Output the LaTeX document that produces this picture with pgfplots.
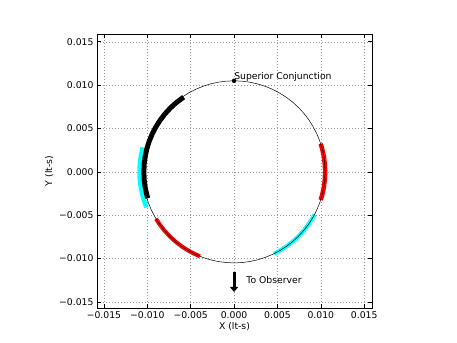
\documentclass[border=0pt]{standalone}
\usepackage{fontspec}
\setmainfont{DejaVu Sans}
\usepackage{pgfplots}
\pgfplotsset{compat=1.18}
\usetikzlibrary{arrows.meta}
\definecolor{mcyan}{RGB}{0,255,255}
\definecolor{mred}{RGB}{255,0,0}
\begin{document}
\begin{tikzpicture}
\begin{axis}[
    scale only axis,
    width=275bp, height=274bp,
    xmin=-0.0158, xmax=0.0159,
    ymin=-0.0157, ymax=0.0159,
    scaled ticks=false,
    xtick={-0.015,-0.01,-0.005,0,0.005,0.01,0.015},
    xticklabels={−0.015,−0.010,−0.005,0.000,0.005,0.010,0.015},
    ytick={-0.015,-0.01,-0.005,0,0.005,0.01,0.015},
    yticklabels={−0.015,−0.010,−0.005,0.000,0.005,0.010,0.015},
    grid=major,
    major grid style={black!40, line width=0.5bp, dash pattern=on 0.9bp off 2.1bp},
    tick style={black, line width=0.6bp},
    major tick length=4bp,
    axis line style={line width=0.8bp},
    xlabel={X (lt-s)}, ylabel={Y (lt-s)},
    tick label style={font=\fontsize{9.3}{11}\selectfont},
    label style={font=\fontsize{9.3}{11}\selectfont},
    xlabel style={yshift=3bp},
    ylabel style={yshift=-1bp},
    clip=false,
]
% observed arcs (angle in degrees, radius in lt-s)
\addplot[mcyan, line width=4.5bp, data cs=polar] coordinates {
 (165,0.0109) (170,0.0109) (175,0.0109) (180,0.0109) (185,0.0109)
 (190,0.0109) (195,0.0109) (200,0.0109) (202,0.0109)};
\addplot[mred, line width=4.5bp, data cs=polar] coordinates {
 (-18,0.0105) (-15,0.0105) (-10,0.0105) (-5,0.0105) (0,0.0105)
 (5,0.0105) (10,0.0105) (15,0.0105) (18,0.0105)};
\addplot[mcyan, line width=4bp, data cs=polar] coordinates {
 (-64,0.0105) (-60,0.0105) (-55,0.0105) (-50,0.0105) (-45,0.0105)
 (-40,0.0105) (-35,0.0105) (-30,0.0105) (-28,0.0105)};
\addplot[mred, line width=4bp, data cs=polar] coordinates {
 (211,0.0105) (215,0.0105) (220,0.0105) (225,0.0105) (230,0.0105)
 (235,0.0105) (240,0.0105) (245,0.0105) (248,0.0105)};
% orbit
\addplot[black, line width=0.5bp, data cs=polar] coordinates {
 (0,0.0105) (5,0.0105) (10,0.0105) (15,0.0105) (20,0.0105) (25,0.0105)
 (30,0.0105) (35,0.0105) (40,0.0105) (45,0.0105) (50,0.0105) (55,0.0105)
 (60,0.0105) (65,0.0105) (70,0.0105) (75,0.0105) (80,0.0105) (85,0.0105)
 (90,0.0105) (95,0.0105) (100,0.0105) (105,0.0105) (110,0.0105) (115,0.0105)
 (120,0.0105) (125,0.0105) (130,0.0105) (135,0.0105) (140,0.0105) (145,0.0105)
 (150,0.0105) (155,0.0105) (160,0.0105) (165,0.0105) (170,0.0105) (175,0.0105)
 (180,0.0105) (185,0.0105) (190,0.0105) (195,0.0105) (200,0.0105) (205,0.0105)
 (210,0.0105) (215,0.0105) (220,0.0105) (225,0.0105) (230,0.0105) (235,0.0105)
 (240,0.0105) (245,0.0105) (250,0.0105) (255,0.0105) (260,0.0105) (265,0.0105)
 (270,0.0105) (275,0.0105) (280,0.0105) (285,0.0105) (290,0.0105) (295,0.0105)
 (300,0.0105) (305,0.0105) (310,0.0105) (315,0.0105) (320,0.0105) (325,0.0105)
 (330,0.0105) (335,0.0105) (340,0.0105) (345,0.0105) (350,0.0105) (355,0.0105)
 (360,0.0105)};
\addplot[black, line width=5bp, data cs=polar] coordinates {
 (124,0.0104) (130,0.0104) (135,0.0104) (140,0.0104) (145,0.0104)
 (150,0.0104) (155,0.0104) (160,0.0104) (165,0.0104) (170,0.0104)
 (175,0.0104) (180,0.0104) (185,0.0104) (190,0.0104) (195,0.0104) (197,0.0104)};
% superior conjunction
\addplot[only marks, mark=*, mark size=2bp, black] coordinates {(0,0.0105)};
\node[anchor=base west, inner sep=0pt, font=\fontsize{9.3}{11}\selectfont]
  at (axis cs:0,0.0106) {Superior Conjunction};
% direction to observer
\draw[line width=3bp, -{Triangle[length=5bp, width=8bp]}]
  (axis cs:0,-0.0116) -- (axis cs:0,-0.01385);
\node[anchor=west, inner sep=0pt, font=\fontsize{9.3}{11}\selectfont]
  at (axis cs:0.0014,-0.0125) {To Observer};
\end{axis}
\path (current axis.south west) ++(-97bp,-35bp) rectangle
      ([shift={(85bp,34bp)}]current axis.north east);
\end{tikzpicture}
\end{document}
